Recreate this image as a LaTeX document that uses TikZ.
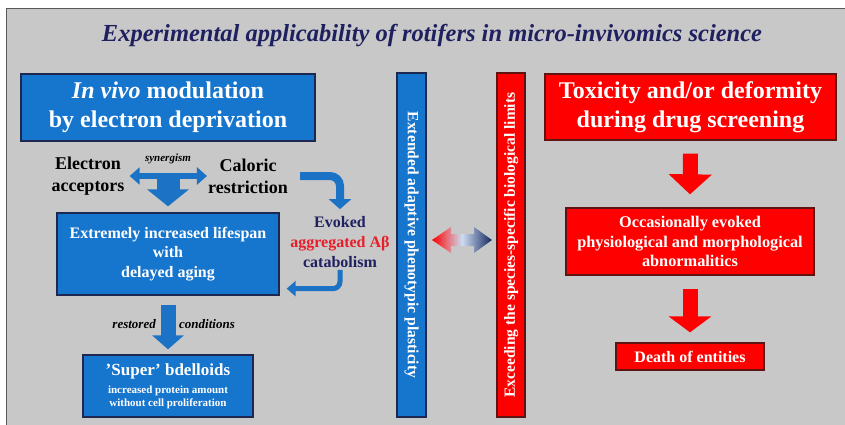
\documentclass[tikz,border=0pt]{standalone}
\usepackage{fontspec}
\setmainfont{Liberation Serif}
\usetikzlibrary{arrows.meta,calc}
\definecolor{bgray}{RGB}{200,200,200}
\definecolor{boxblue}{RGB}{22,117,205}
\definecolor{bluedark}{RGB}{28,40,80}
\definecolor{boxred}{RGB}{255,0,0}
\definecolor{reddark}{RGB}{95,20,20}
\definecolor{navytext}{RGB}{30,32,95}
\definecolor{arrblue}{RGB}{28,114,196}
\definecolor{abred}{RGB}{232,30,40}
\definecolor{gradnavy}{RGB}{20,40,95}
\definecolor{gradmid}{RGB}{205,220,240}
\begin{document}
\begin{tikzpicture}[x=1pt,y=-1pt,
  box/.style={draw, line width=1.3pt, inner sep=0pt, align=center, text=white},
  bbox/.style={box, fill=boxblue, draw=bluedark},
  rbox/.style={box, fill=boxred, draw=reddark},
  lbl/.style={align=center, inner sep=0pt},
  bluearrow/.style={draw=arrblue},
  redarrow/.style={draw=boxred},
]
\clip (0,0) rectangle (845,425);
\useasboundingbox (0,0) rectangle (845,425);
\fill[white] (0,0) rectangle (845,425);
\draw[fill=bgray, draw=black!65, line width=1pt] (6,9) rectangle (852,432);

% title
\node[font=\bfseries\itshape\fontsize{24.5}{28}\selectfont, text=navytext, anchor=base, inner sep=0pt] (title) at (432,42) {Experimental applicability of rotifers in micro-invivomics science};

% left column
\node[bbox, minimum width=294, minimum height=67, font=\bfseries\fontsize{24}{29}\selectfont] (hdr) at (168,107.5) {\textit{In vivo} modulation\\by electron deprivation};

\node[lbl, font=\bfseries\fontsize{18}{22}\selectfont] (ea) at (88,176) {Electron\\acceptors};
\node[lbl, font=\bfseries\fontsize{18}{22}\selectfont] (cr) at (248,176) {Caloric\\restriction};
\node[lbl, font=\bfseries\itshape\fontsize{11}{13}\selectfont] (syn) at (168,159) {synergism};

\draw[bluearrow, line width=6pt, {Triangle[width=17pt,length=10pt]}-{Triangle[width=17pt,length=10pt]}] ([xshift=5pt]ea.east) -- ([xshift=-1pt]cr.west);

\node[bbox, minimum width=222, minimum height=82, font=\bfseries\fontsize{16}{19.5}\selectfont] (life) at (168,254) {Extremely increased lifespan\\with\\delayed aging};

\coordinate (synmid) at (168,178);
\draw[bluearrow, line width=23pt, -{Triangle[width=41pt,length=17pt]}] (synmid) -- ([yshift=6pt]life.north);

\node[lbl, font=\bfseries\fontsize{16}{20}\selectfont, text=navytext] (evk) at (340,242) {Evoked\\\textcolor{abred}{aggregated Aβ}\\catabolism};

\draw[bluearrow, line width=8pt, rounded corners=10pt, -{Triangle[width=22pt,length=10pt]}] ([xshift=12pt]cr.east) -| ([yshift=7pt]evk.north);
\draw[bluearrow, line width=5pt, rounded corners=7pt, -{Triangle[width=15pt,length=9pt]}] ([yshift=-2pt]evk.south) |- ($(life.south east)+(7,-7)$);

\node[bbox, minimum width=170, minimum height=62, font=\bfseries\fontsize{11}{13}\selectfont] (sup) at (168,386) {{\fontsize{17}{20}\selectfont ’Super’ bdelloids}\\[5pt]increased protein amount\\without cell proliferation};

\draw[bluearrow, line width=15pt, -{Triangle[width=31pt,length=14pt]}] ([yshift=-9pt]life.south) -- ([yshift=5pt]sup.north);
\node[lbl, font=\bfseries\itshape\fontsize{13}{15}\selectfont, anchor=east] (rst) at (156,324) {restored};
\node[lbl, font=\bfseries\itshape\fontsize{13}{15}\selectfont, anchor=west] (cnd) at (179,324) {conditions};

% vertical bars
\node[bbox, rotate=-90, minimum width=344, minimum height=29, font=\bfseries\fontsize{15.6}{17}\selectfont] (vb) at (411.5,245) {Extended adaptive phenotypic plasticity};
\node[rbox, rotate=90, minimum width=344, minimum height=28, font=\bfseries\fontsize{15.5}{17}\selectfont] (rb) at (511,245) {Exceeding the species-specific biological limits};

% gradient double arrow
\shade[left color=red, right color=gradnavy, middle color=gradmid]
  (432,240) -- (451,227) -- (451,234) -- (474,234) -- (474,227) -- (492,240)
  -- (474,253) -- (474,246) -- (451,246) -- (451,253) -- cycle;

% right column
\node[rbox, minimum width=291, minimum height=66, font=\bfseries\fontsize{24}{29}\selectfont] (tox) at (690.5,107) {Toxicity and/or deformity\\during drug screening};
\node[rbox, minimum width=248, minimum height=67, font=\bfseries\fontsize{16.3}{19.5}\selectfont] (abn) at (690,241.5) {Occasionally evoked\\physiological and morphological\\abnormalitics};
\node[rbox, minimum width=148, minimum height=27, font=\bfseries\fontsize{16}{17}\selectfont] (death) at (690,356.5) {Death of entities};

\draw[redarrow, line width=15pt, -{Triangle[width=42pt,length=20pt]}] ([yshift=-13pt]tox.south) -- ([yshift=13pt]abn.north);
\draw[redarrow, line width=15pt, -{Triangle[width=42pt,length=16pt]}] ([yshift=-13pt]abn.south) -- ([yshift=10pt]death.north);
\end{tikzpicture}
\end{document}
